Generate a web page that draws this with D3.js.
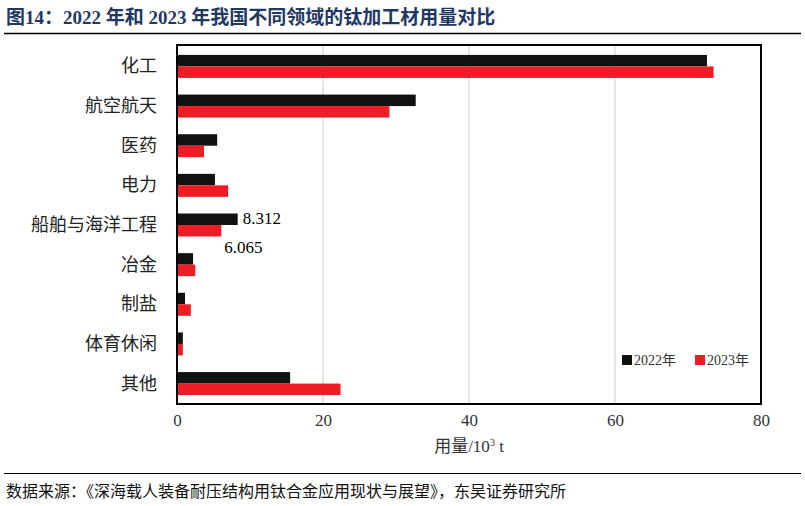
<!DOCTYPE html><html><head><meta charset="utf-8"><script src="https://cdn.jsdelivr.net/npm/d3@7"></script>
<style>body{margin:0;background:#fff}</style></head><body><svg id="c" width="805" height="506"></svg>
<script>
const categories=["化工","航空航天","医药","电力","船舶与海洋工程","冶金","制盐","体育休闲","其他"];
const v2022=[72.6,32.7,5.5,5.2,8.312,2.2,1.1,0.8,15.5];
const v2023=[73.5,29.1,3.7,7.0,6.065,2.5,1.9,0.8,22.4];
const xTicks=[0,20,40,60,80];
const svg=d3.select("#c");
const serif="'Liberation Serif','Noto Sans CJK SC',serif";
const cjk="'Noto Sans CJK SC',sans-serif";
svg.append("text").attr("x",6).attr("y",24).attr("fill","#1f3864").attr("font-weight","bold").attr("font-size",19).attr("font-family",serif).text("图14：2022 年和 2023 年我国不同领域的钛加工材用量对比");
svg.append("line").attr("x1",4).attr("x2",801).attr("y1",33.5).attr("y2",33.5).attr("stroke","#000").attr("stroke-width",1.5);
const L=177,R=761,T=45,B=404;
const x=d3.scaleLinear().domain([0,80]).range([L,R]);
const y=d3.scaleBand().domain(categories).range([T+2,B-1]).paddingInner(0.42).paddingOuter(0.2);
svg.selectAll(".g").data(xTicks.slice(1,-1)).join("line").attr("x1",d=>x(d)).attr("x2",d=>x(d)).attr("y1",T).attr("y2",B).attr("stroke","#ccc");
const bh=y.bandwidth()/2;
svg.selectAll(".a").data(categories).join("rect").attr("x",L).attr("y",d=>y(d)).attr("height",bh).attr("width",(d,i)=>x(v2022[i])-L).attr("fill","#111");
svg.selectAll(".b").data(categories).join("rect").attr("x",L).attr("y",d=>y(d)+bh).attr("height",bh).attr("width",(d,i)=>x(v2023[i])-L).attr("fill","#ee1c25");
svg.append("rect").attr("x",L).attr("y",T).attr("width",R-L).attr("height",B-T).attr("fill","none").attr("stroke","#000").attr("stroke-width",2);
svg.selectAll(".c").data(categories).join("text").attr("x",L-20).attr("y",d=>y(d)+bh+6).attr("text-anchor","end").attr("font-size",18).attr("font-family",cjk).attr("fill","#222").text(d=>d);
const xa=svg.append("g").attr("transform",`translate(0,${B})`).call(d3.axisBottom(x).tickValues(xTicks).tickSize(0).tickPadding(10));
xa.select(".domain").remove();
xa.selectAll("text").attr("font-size",17).attr("font-family",serif).attr("fill","#333");
const si=4;
svg.append("text").attr("x",x(v2022[si])+5).attr("y",y(categories[si])+bh-1).attr("font-size",17).attr("font-family",serif).text(v2022[si]);
svg.append("text").attr("x",x(v2023[si])+3).attr("y",y(categories[si])+2*bh+17).attr("font-size",17).attr("font-family",serif).text(v2023[si]);
svg.append("text").attr("x",469).attr("y",452).attr("text-anchor","middle").attr("font-size",17).attr("font-family",serif).attr("fill","#333").html('用量/10<tspan dy="-6" font-size="10">3</tspan><tspan dy="6"> t</tspan>');
const lg=svg.append("g").attr("transform","translate(622,355)");
[["2022年","#111",0],["2023年","#ee1c25",73]].forEach(([t,c,dx])=>{lg.append("rect").attr("x",dx).attr("y",0).attr("width",10).attr("height",10).attr("fill",c);lg.append("text").attr("x",dx+12).attr("y",10).attr("font-size",14).attr("font-family",serif).attr("fill","#333").text(t);});
svg.append("line").attr("x1",4).attr("x2",801).attr("y1",473.5).attr("y2",473.5).attr("stroke","#000").attr("stroke-width",1);
svg.append("text").attr("x",6).attr("y",497).attr("font-size",16).attr("font-family",cjk).attr("fill","#111").text("数据来源：《深海载人装备耐压结构用钛合金应用现状与展望》，东吴证券研究所");
</script></body></html>
